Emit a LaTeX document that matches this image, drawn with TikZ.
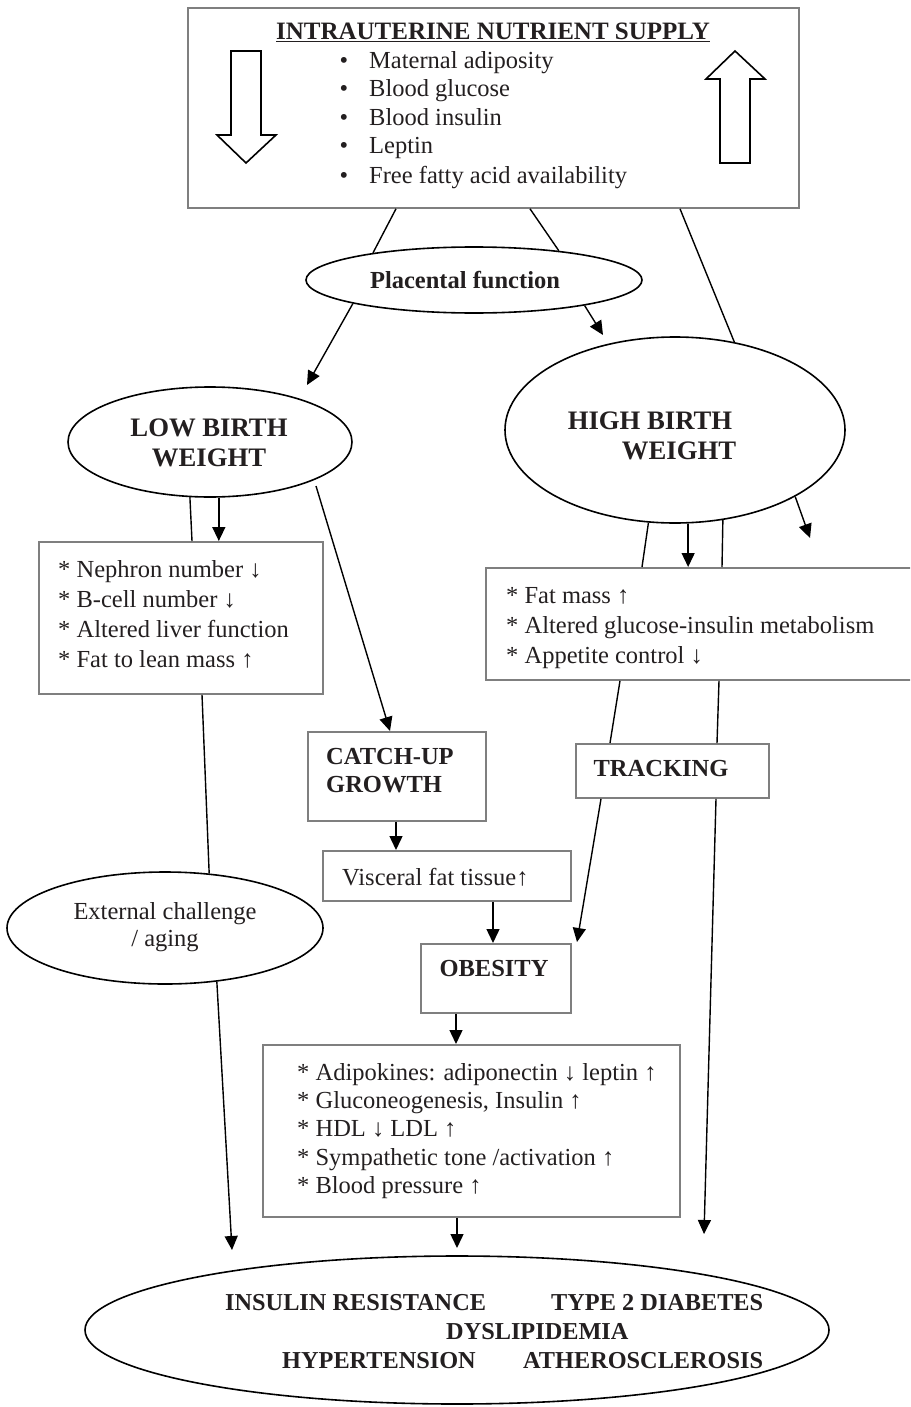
\documentclass[tikz,border=0pt]{standalone}
\usepackage{fontspec}
\setmainfont{Liberation Serif}
\usetikzlibrary{shapes.geometric,arrows.meta,calc}
\definecolor{ink}{HTML}{231F20}
\definecolor{boxgray}{HTML}{7F7F7F}
\tikzset{
 gbox/.style={rectangle, draw=boxgray, line width=1.8pt, inner sep=0pt, anchor=north west},
 ell/.style={ellipse, draw=black, line width=1.6pt, inner sep=0pt},
 conn/.style={draw=black, line width=1.4pt},
 arr/.style={conn, -{Triangle[length=14pt,width=13pt]}},
 txt/.style={inner sep=0pt, text=ink, font=\fontsize{24.5}{28.5}\selectfont},
 lt/.style={txt, anchor=base west},
 ct/.style={txt, anchor=base},
 bt/.style={txt, anchor=base, font=\fontsize{24.5}{28.5}\selectfont\bfseries},
 bwt/.style={bt, anchor=base west},
 ht/.style={bt, font=\fontsize{26.7}{30}\selectfont\bfseries},
 ot/.style={bwt, font=\fontsize{24.3}{28}\selectfont\bfseries},
 blk/.style={draw=black, line width=1.6pt, fill=white, line join=miter},
}
\begin{document}
\begin{tikzpicture}[x=1pt,y=-1pt]
\path[use as bounding box] (0,0) rectangle (910,1407);
\clip (0,0) rectangle (910,1407);

% boxes and ellipses
\node[gbox, minimum width=611pt, minimum height=200pt] (top) at (187,7) {};
\node[ell, minimum width=336pt, minimum height=66pt] (plac) at (474,280) {};
\node[ell, minimum width=284pt, minimum height=110pt] (lbw) at (210,442) {};
\node[ell, minimum width=340pt, minimum height=186pt] (hbw) at (675,430) {};
\node[gbox, minimum width=284pt, minimum height=152pt] (lbwbox) at (38,541) {};
\node[gbox, minimum width=440pt, minimum height=112pt] (hbwbox) at (485,567) {};
\node[gbox, minimum width=178pt, minimum height=89pt] (catch) at (307,731) {};
\node[gbox, minimum width=193pt, minimum height=54pt] (track) at (575,743) {};
\node[gbox, minimum width=248pt, minimum height=50pt] (visc) at (322,850) {};
\node[gbox, minimum width=150pt, minimum height=69pt] (obes) at (420,943) {};
\node[ell, minimum width=316pt, minimum height=112pt] (ext) at (165,928) {};
\node[gbox, minimum width=417pt, minimum height=172pt] (big) at (262,1044) {};
\node[ell, minimum width=744pt, minimum height=148pt] (out) at (457,1330) {};

% block arrows in the top box
\draw[blk] (231,51) -- (261,51) -- (261,135) -- (276,135) -- (246,163) -- (217,135) -- (231,135) -- cycle;
\draw[blk] (720,163) -- (750,163) -- (750,79) -- (765,79) -- (735,51) -- (706,79) -- (720,79) -- cycle;

% texts
\node[bt, font=\fontsize{25}{28.5}\selectfont\bfseries] (title) at (493,40) {\underline{INTRAUTERINE NUTRIENT SUPPLY}};
\node[ct] (bu1) at (344,69) {\textbullet};
\node[lt] (tx1) at (369,69) {Maternal adiposity};
\node[ct] (bu2) at (344,97) {\textbullet};
\node[lt] (tx2) at (369,97) {Blood glucose};
\node[ct] (bu3) at (344,126) {\textbullet};
\node[lt] (tx3) at (369,126) {Blood insulin};
\node[ct] (bu4) at (344,154) {\textbullet};
\node[lt] (tx4) at (369,154) {Leptin};
\node[ct] (bu5) at (344,183) {\textbullet};
\node[lt] (tx5) at (369,183) {Free fatty acid availability};

\node[bt] (plact) at (465,288) {Placental function};
\node[ht] (lbw1) at (209,436) {LOW BIRTH};
\node[ht] (lbw2) at (209,466) {WEIGHT};
\node[ht] (hbw1) at (650,429) {HIGH BIRTH};
\node[ht] (hbw2) at (679,459) {WEIGHT};

\node[lt] (l1) at (58,577) {* Nephron number ↓};
\node[lt] (l2) at (58,607) {* B-cell number ↓};
\node[lt] (l3) at (58,637) {* Altered liver function};
\node[lt] (l4) at (58,667) {* Fat to lean mass ↑};

\node[lt] (h1) at (506,603) {* Fat mass ↑};
\node[lt] (h2) at (506,633) {* Altered glucose-insulin metabolism};
\node[lt] (h3) at (506,663) {* Appetite control ↓};

\node[bwt] (cu1) at (326,764) {CATCH-UP};
\node[bwt] (cu2) at (326,792) {GROWTH};
\node[bt] (trt) at (661,776) {TRACKING};
\node[lt] (vt) at (342,885) {Visceral fat tissue↑};
\node[bt] (obt) at (494,976) {OBESITY};
\node[ct] (ex1) at (165,919) {External challenge};
\node[ct] (ex2) at (165,946) {/ aging};

\node[lt] (g1) at (297,1080) {* Adipokines: adiponectin ↓ leptin ↑};
\node[lt] (g2) at (297,1108) {* Gluconeogenesis, Insulin ↑};
\node[lt] (g3) at (297,1136) {* HDL ↓ LDL ↑};
\node[lt] (g4) at (297,1165) {* Sympathetic tone /activation ↑};
\node[lt] (g5) at (297,1193) {* Blood pressure ↑};

\node[ot] (o1) at (225,1310) {INSULIN RESISTANCE};
\node[ot] (o2) at (551,1310) {TYPE 2 DIABETES};
\node[ot] (o3) at (446,1339) {DYSLIPIDEMIA};
\node[ot] (o4) at (282,1368) {HYPERTENSION};
\node[ot] (o5) at (523,1368) {ATHEROSCLEROSIS};

% connectors
\coordinate (lbwtip) at (307,385);
\coordinate (hbwtip) at (603,335);
\coordinate (lbwout) at (316,486);
\coordinate (hbwright) at (810,538);
\coordinate (obtip) at (577,942);
\coordinate (rtip) at (704,1234);
\coordinate (ltip) at (232,1250);
\coordinate (mtip) at (457,1248);

\draw[conn] ($(top.south west)+(209,0)$) -- (plac.165);
\draw[conn] ($(top.south west)+(343,0)$) -- (plac.19.7);
\draw[conn] ($(top.south west)+(493,0)$) -- (hbw.56.6);
\draw[arr] (plac.-169.7) -- (lbwtip);
\draw[arr] (plac.-13) -- (hbwtip);

\draw[conn] (lbw.-110.9) -- ($(lbwbox.north west)+(154,0)$);
\draw[arr] (lbw.-81.7) -- (lbw.-81.7 |- lbwbox.north);
\draw[arr] (lbwout) -- ($(catch.north west)+(83,0)$);

\draw[conn] (hbw.-106.2) -- ($(hbwbox.north west)+(157,0)$);
\draw[arr] (hbw.-82) -- (hbw.-82 |- hbwbox.north);
\draw[conn] (hbw.-62) -- ($(hbwbox.north west)+(237,0)$);
\draw[arr] (hbw.-29.1) -- (hbwright);

\draw[conn] ($(hbwbox.south west)+(135,0)$) -- ($(track.north west)+(35,0)$);
\draw[arr] ($(track.south west)+(26,0)$) -- (obtip);
\draw[conn] ($(hbwbox.south west)+(234,0)$) -- ($(track.north west)+(142,0)$);
\draw[arr] ($(track.south west)+(141,0)$) -- (rtip);

\draw[conn] ($(lbwbox.south west)+(164,0)$) -- (ext.51.2);
\draw[arr] (ext.-46.6) -- (ltip);

\draw[arr] ($(catch.south west)+(89,0)$) coordinate (c1) -- (c1 |- visc.north);
\draw[arr] ($(visc.south west)+(171,0)$) coordinate (v1) -- (v1 |- obes.north);
\draw[arr] ($(obes.south west)+(36,0)$) coordinate (ob1) -- (ob1 |- big.north);
\draw[arr] ($(big.south west)+(195,0)$) -- (mtip);
\end{tikzpicture}
\end{document}
